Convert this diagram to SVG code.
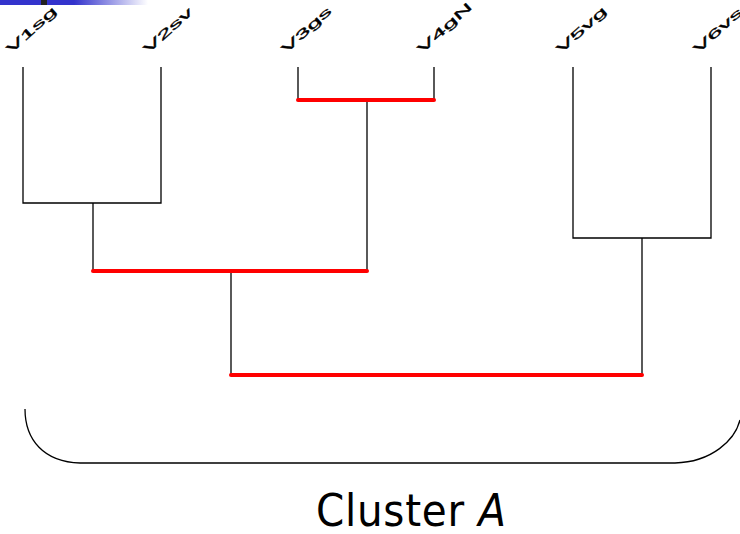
<svg xmlns="http://www.w3.org/2000/svg" width="740" height="534" viewBox="0 0 740 534">
<defs>
<linearGradient id="bar" x1="0" y1="0" x2="1" y2="0">
<stop offset="0" stop-color="#3333cc"/>
<stop offset="0.5" stop-color="#3333cc"/>
<stop offset="1" stop-color="#ffffff"/>
</linearGradient>
</defs>
<style>
.lbl{font-family:"Liberation Sans",Arial,sans-serif;font-size:25px;fill:#000;stroke:#000;stroke-width:0.6}
.blk{stroke:#000;stroke-width:1.3;fill:none}
.red{stroke:#ff0000;stroke-width:4;fill:none;stroke-linecap:round}
.cap{font-family:"DejaVu Sans Condensed","DejaVu Sans",sans-serif;font-size:45px;fill:#000}
</style>
<rect width="740" height="534" fill="#fff"/>
<rect x="0" y="0" width="148" height="5" fill="url(#bar)"/>
<rect x="41" y="0" width="6" height="5" fill="#222"/>
<g id="labels">
<g id="n1"><text class="lbl" transform="translate(11,54) rotate(-42) scale(1.1,0.5)">V1sg</text></g>
<g id="n2"><text class="lbl" transform="translate(148,54) rotate(-42) scale(1.1,0.5)">V2sv</text></g>
<g id="n3"><text class="lbl" transform="translate(286,54) rotate(-42) scale(1.1,0.5)">V3gs</text></g>
<g id="n4"><text class="lbl" transform="translate(422,54) rotate(-42) scale(1.1,0.5)">V4gN</text></g>
<g id="n5"><text class="lbl" transform="translate(561,54) rotate(-42) scale(1.1,0.5)">V5vg</text></g>
<g id="n6"><text class="lbl" transform="translate(698,54) rotate(-42) scale(1.1,0.5)">V6vs</text></g>
</g>
<g id="connectors">
<path class="blk" d="M23,67V203H161V67"/>
<path class="blk" d="M93,203V271"/>
<path class="blk" d="M298,67V100M434,67V100"/>
<path class="blk" d="M367,100V271"/>
<path class="blk" d="M231,271V375"/>
<path class="blk" d="M573,67V238H711V67"/>
<path class="blk" d="M642,238V375"/>
<path class="red" d="M298,100H434"/>
<path class="red" d="M93,271H367"/>
<path class="red" d="M231,375H642"/>
</g>
<g id="brace">
<path class="blk" d="M25,409C25,440 44,462 80,463H675C712,462 735,440 740,420" stroke-width="1.5"/>
</g>
<text class="cap" x="316" y="526" textLength="190" lengthAdjust="spacing">Cluster <tspan font-style="italic">A</tspan></text>
</svg>
